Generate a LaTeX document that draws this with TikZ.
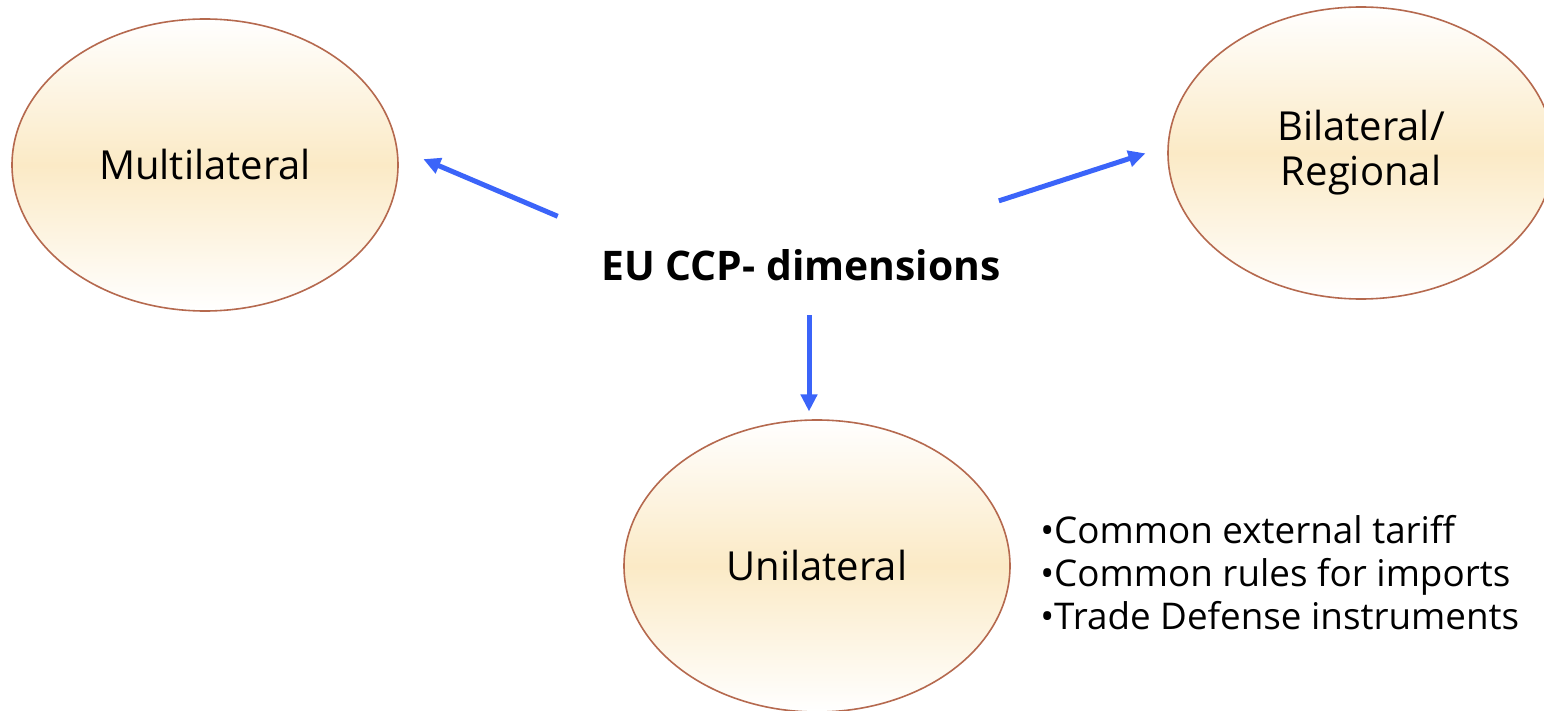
\documentclass[tikz,border=0pt]{standalone}
\usepackage{fontspec}
\setmainfont{Open Sans}
\usetikzlibrary{arrows.meta,shapes.geometric,calc}
\definecolor{cream}{HTML}{FBEAC6}
\definecolor{rim}{HTML}{B5694E}
\definecolor{blue}{HTML}{3B64F9}
\tikzset{
  every picture/.style={
    line join=round,
  },
  % the three ellipses
  dim/.style={ellipse, draw=rim, line width=0.8pt,
    top color=white, bottom color=white, middle color=cream,
    minimum width=193pt, minimum height=146pt,
    align=center, font=\fontsize{20}{22.5}\selectfont},
  arr/.style={blue, line width=2.5pt, -{Triangle[length=8.5pt,width=8pt]}},
}

\begin{document}
\begin{tikzpicture}[x=0.5pt,y=-0.5pt]
\useasboundingbox (0,0) rectangle (1544,711);
\node[dim] (multi) at (205,165) {Multilateral};
\node[dim] (bi) at (1361,153) {Bilateral/\\Regional};
\node[dim] (uni) at (817,566) {Unilateral};
\node[font=\bfseries\fontsize{20.4}{24}\selectfont] (title) at (801,265) {EU CCP- dimensions};
\node[anchor=west, align=left, inner sep=0pt, font=\fontsize{18.4}{21.5}\selectfont] (list) at (1040,573)
  {•Common external tariff\\•Common rules for imports\\•Trade Defense instruments};
\coordinate (mid) at ($(title.south)!0.5!(uni.north)$);
\draw[arr] ($(multi.5)!0.397!([yshift=-16pt]title.south)$) -- ($(multi.5)!0.064!([yshift=-16pt]title.south)$);
\draw[arr] ($(title)!0.54!(bi.178)$) -- ($(title)!0.94!(bi.178)$);
\draw[arr] ([yshift=19pt]mid) -- ([yshift=-29pt]mid);
\end{tikzpicture}
\end{document}
